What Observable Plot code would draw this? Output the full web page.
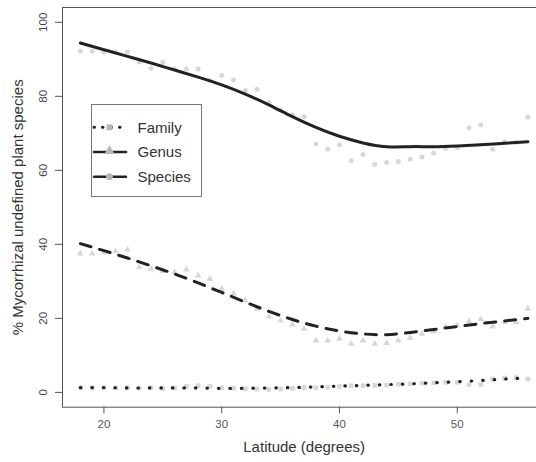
<!DOCTYPE html>
<html><head><meta charset="utf-8">
<script src="https://cdn.jsdelivr.net/npm/d3@7"></script>
<script src="https://cdn.jsdelivr.net/npm/@observablehq/plot@0.6"></script>
<style>
html,body{margin:0;padding:0;background:#fff;overflow:hidden;}
#wrap{position:relative;width:536px;height:462px;overflow:hidden;}
#wrap svg{overflow:hidden;display:block;}
#legend{position:absolute;left:91px;top:104px;}
</style></head><body>
<div id="wrap"></div>
<script>
const latitudes = [18,19,20,21,22,23,24,25,26,27,28,29,30,31,32,33,34,35,36,37,38,39,40,41,42,43,44,45,46,47,48,49,50,51,52,53,54,55,56];
const familyPts = [1.2,1.2,1.2,1.2,1.3,1.2,1.3,1.0,1.2,1.6,1.8,1.6,1.2,1.1,1.0,0.9,0.8,0.9,1.1,1.3,1.3,1.4,1.6,1.8,1.8,1.9,2.0,2.2,2.3,2.5,2.6,2.7,2.7,2.1,2.1,3.6,3.9,4.0,3.6];
const genusPts = [37.5,37.5,37.8,38.1,38.6,33.9,33.4,32.8,32.5,33.2,31.6,30.7,28.0,26.7,24.9,22.6,20.5,19.4,18.3,17.2,14.0,14.0,14.5,13.1,14.0,13.1,13.3,14.0,14.7,15.8,16.5,17.8,18.1,19.2,19.8,17.8,19.0,19.0,22.6];
const speciesPts = [92.2,92.2,91.9,91.9,92.0,89.3,87.6,89.2,87.4,87.4,87.4,84.3,85.6,84.4,81.6,81.9,78.3,76.3,75.0,74.5,67.1,65.7,66.9,62.6,64.3,61.6,62.1,62.4,63.0,63.6,64.7,66.0,66.1,71.5,72.3,65.7,67.7,67.5,74.4];

const fitLatitudes = [18,20,22,24,26,28,30,32,34,36,38,40,42,44,46,48,50,52,54,56];
const familyFit = [1.3,1.3,1.2,1.2,1.2,1.2,1.1,1.1,1.2,1.3,1.5,1.7,1.9,2.1,2.3,2.6,2.9,3.2,3.6,3.9];
const genusFit = [40.2,38.3,36.3,34.2,32.0,29.6,27.0,24.4,21.9,19.7,17.9,16.6,15.8,15.6,16.2,17.0,17.8,18.6,19.3,20.0];
const speciesFit = [94.4,92.6,90.8,89.0,87.1,85.2,83.1,80.6,77.7,74.5,71.6,69.2,67.4,66.4,66.4,66.4,66.6,66.9,67.3,67.7];

const xTicks = [20,30,40,50];
const yTicks = [0,20,40,60,80,100];
const seriesNames = ["Family","Genus","Species"];
const xTitle = "Latitude (degrees)";
const yTitle = "% Mycorrhizal undefined plant species";

const font = '"Liberation Sans", Arial, Helvetica, sans-serif';
const ptColor = "#d7d7d7";
const lineColor = "#222";
const axisColor = "#555";

const toRows = (xs, ys) => xs.map((x, i) => ({x, y: ys[i]}));
const xDomain = [16.48, 57.52];
const yDomain = [-4, 104];

const chart = Plot.plot({
  width: 536, height: 462,
  marginLeft: 62, marginRight: -9.3, marginTop: 7, marginBottom: 55.3,
  x: {domain: xDomain},
  y: {domain: yDomain},
  style: {fontFamily: font, background: "white", overflow: "hidden"},
  marks: [
    Plot.ruleX([xDomain[0]], {stroke: axisColor, strokeWidth: 1}),
    Plot.ruleY([yDomain[0]], {stroke: axisColor, strokeWidth: 1}),
    Plot.ruleY([yDomain[1]], {stroke: axisColor, strokeWidth: 1}),
    Plot.axisX(xTicks, {tickSize: 6.5, tickPadding: 6, fontSize: 11.5, color: axisColor, label: null, tickFormat: d => String(d)}),
    Plot.axisY(yTicks, {tickSize: 7, tickFormat: () => "", color: axisColor, label: null}),
    Plot.text(yTicks, {y: d => d, frameAnchor: "left", dx: -19, rotate: -90, text: d => String(d), fontSize: 11.5, fill: "#444", textAnchor: "middle", lineAnchor: "middle"}),
    Plot.text([xTitle], {frameAnchor: "bottom", dy: 40, fontSize: 15, fill: "#333", textAnchor: "middle", lineAnchor: "middle"}),
    Plot.text([yTitle], {frameAnchor: "left", dx: -44, rotate: -90, fontSize: 15, fill: "#333", textAnchor: "middle", lineAnchor: "middle"}),
    Plot.dot(toRows(latitudes, speciesPts), {x: "x", y: "y", symbol: "circle", r: 2.5, fill: ptColor, stroke: "none"}),
    Plot.dot(toRows(latitudes, genusPts), {x: "x", y: "y", symbol: "triangle", r: 2.5, fill: ptColor, stroke: "none"}),
    Plot.dot(toRows(latitudes, familyPts), {x: "x", y: "y", symbol: "square", r: 2.6, fill: ptColor, stroke: "none"}),
    Plot.line(toRows(fitLatitudes, speciesFit), {x: "x", y: "y", stroke: lineColor, strokeWidth: 3, curve: "natural"}),
    Plot.line(toRows(fitLatitudes, genusFit), {x: "x", y: "y", stroke: lineColor, strokeWidth: 3, strokeDasharray: "11,9", strokeLinecap: "round", curve: "natural"}),
    Plot.line(toRows(fitLatitudes, familyFit), {x: "x", y: "y", stroke: lineColor, strokeWidth: 3.2, strokeDasharray: "0.5,11", strokeLinecap: "round", curve: "natural"})
  ]
});
const wrap = document.getElementById("wrap");
wrap.appendChild(chart);

// Legend
const lg = d3.select(wrap).append("svg").attr("id", "legend")
  .attr("width", 112).attr("height", 94)
  .style("font-family", font);
lg.append("rect").attr("x", 0.5).attr("y", 0.5).attr("width", 110).attr("height", 92)
  .attr("fill", "white").attr("stroke", "#777").attr("stroke-width", 1);
const dashes = ["0.5,8", null, null];
const widths = [3, 2.5, 2.5];
const syms = [d3.symbolSquare, d3.symbolTriangle, d3.symbolCircle];
const symSizes = [22, 28, 24];
seriesNames.forEach((name, i) => {
  const cy = 23.3 + i * 24.7;
  const g = lg.append("g").attr("transform", `translate(0,${cy})`);
  g.append("line").attr("x1", 3).attr("x2", i === 0 ? 32 : 35).attr("y1", 0).attr("y2", 0)
    .attr("stroke", lineColor).attr("stroke-width", widths[i])
    .attr("stroke-linecap", "round")
    .attr("stroke-dasharray", dashes[i]);
  g.append("path").attr("d", d3.symbol(syms[i], symSizes[i]*1.6)())
    .attr("transform", `translate(18.5,${i === 1 ? -1 : 0})`).attr("fill", "#b8b8b8");
  g.append("text").attr("x", 46.5).attr("y", 0).attr("dy", "0.36em")
    .attr("font-size", 15).attr("fill", "#333").text(name);
});
</script>
</body></html>
